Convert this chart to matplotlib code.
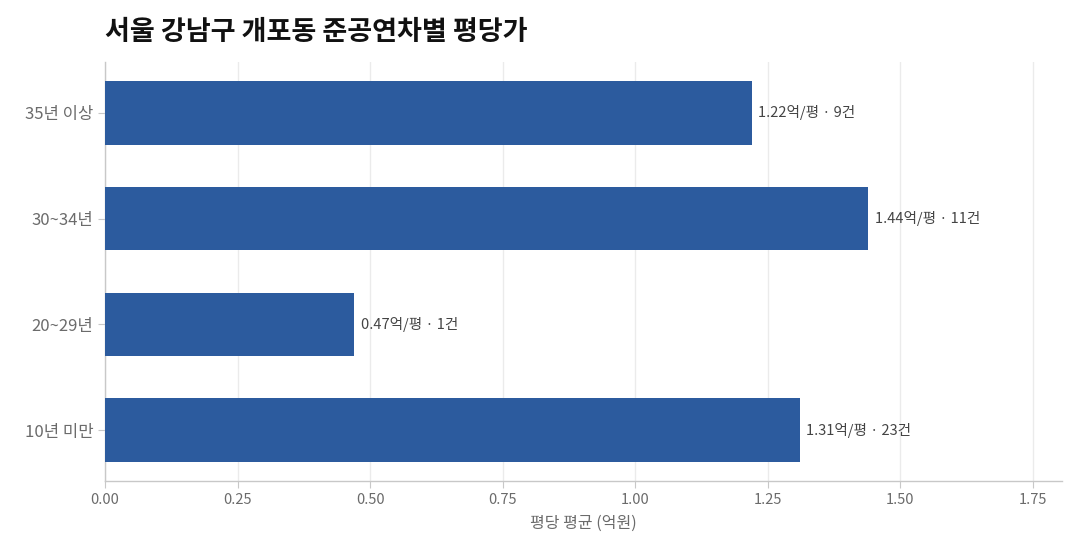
import matplotlib
matplotlib.use("Agg")
import matplotlib.pyplot as plt
from matplotlib.ticker import FormatStrFormatter

plt.rcParams['font.family'] = ['Noto Sans CJK KR', 'DejaVu Sans']

categories = ["10년 미만", "20~29년", "30~34년", "35년 이상"]
values     = [1.31, 0.47, 1.44, 1.22]
counts     = [23, 1, 11, 9]

bar_color = "#2c5b9e"
grid_color = "#ebebeb"
spine_color = "#c8c8c8"
tick_color = "#6b6b6b"

fig = plt.figure(figsize=(10.8, 5.52), dpi=100)
ax = fig.add_axes([105/1080, 1 - 481/552, (1062-105)/1080, (481-62)/552])

ypos = list(range(len(categories)))
ax.barh(ypos, values, height=0.6, color=bar_color, zorder=3)

for y, v, c in zip(ypos, values, counts):
    ax.text(v + 0.012, y, f"{v:.2f}억/평 · {c}건", va="center", ha="left",
            fontsize=10.5, color="#444444", zorder=4)

ax.set_xlim(0, 1.805)
ax.set_ylim(-0.48, 3.48)
ax.set_xticks([0, 0.25, 0.5, 0.75, 1.0, 1.25, 1.5, 1.75])
ax.xaxis.set_major_formatter(FormatStrFormatter("%.2f"))
ax.set_yticks(ypos)
ax.set_yticklabels(categories)

ax.grid(axis="x", color=grid_color, linewidth=1, zorder=0)
for s in ["top", "right"]:
    ax.spines[s].set_visible(False)
for s in ["left", "bottom"]:
    ax.spines[s].set_color(spine_color)
    ax.spines[s].set_linewidth(1)

ax.tick_params(axis="both", colors=spine_color, labelcolor=tick_color, labelsize=10.5, length=5)
ax.tick_params(axis="y", labelsize=12)
ax.set_xlabel("평당 평균 (억원)", fontsize=11.5, color=tick_color, labelpad=6)

fig.text(105/1080, 1 - 32/552, "서울 강남구 개포동 준공연차별 평당가", fontsize=19.5,
         fontweight="bold", color="#111111", va="center", ha="left")

fig.savefig("out.png", dpi=100)
